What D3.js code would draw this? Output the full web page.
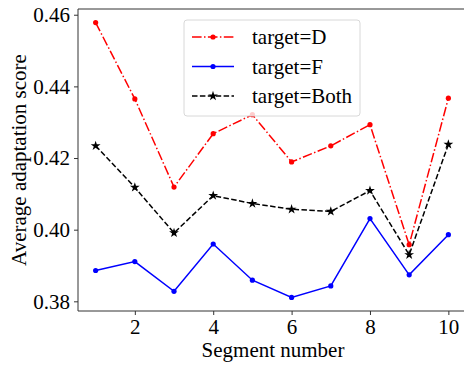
<!DOCTYPE html>
<html>
<head>
<meta charset="utf-8">
<script src="https://cdn.jsdelivr.net/npm/d3@7"></script>
<style>
  body { margin: 0; background: #fff; }
</style>
</head>
<body>
<div id="chart"></div>
<script>
// data
var segments = [1, 2, 3, 4, 5, 6, 7, 8, 9, 10];
var targetD = [0.4578, 0.4365, 0.4119, 0.4268, 0.4321, 0.4189, 0.4234, 0.4293, 0.3958, 0.4367];
var targetF = [0.3886, 0.3911, 0.3828, 0.3960, 0.3859, 0.3811, 0.3843, 0.4031, 0.3874, 0.3986];
var targetBoth = [0.4234, 0.4118, 0.3991, 0.4095, 0.4073, 0.4057, 0.4051, 0.4109, 0.3930, 0.4238];
var xTicks = [2, 4, 6, 8, 10];
var yTicks = [0.38, 0.40, 0.42, 0.44, 0.46];

var FONT = "Liberation Serif, Times New Roman, serif";
var W = 464, H = 370;
var margin = { top: 9, left: 78, bottom: 59 };
var plotW = 388, plotH = H - margin.top - margin.bottom;

var svg = d3.select("#chart").append("svg")
    .attr("width", W)
    .attr("height", H)
    .attr("font-family", FONT)
    .style("font-family", FONT);

var x = d3.scaleLinear().domain([0.55, 10.45]).range([margin.left, margin.left + plotW]);
var y = d3.scaleLinear().domain([0.3773, 0.4616]).range([margin.top + plotH, margin.top]);

// frame
var frame = svg.append("g").attr("stroke", "#333").attr("stroke-width", 1).attr("fill", "none");
frame.append("line").attr("x1", margin.left).attr("x2", margin.left)
    .attr("y1", margin.top).attr("y2", margin.top + plotH);
frame.append("line").attr("x1", margin.left).attr("x2", margin.left + plotW)
    .attr("y1", margin.top + plotH).attr("y2", margin.top + plotH);
frame.append("line").attr("x1", margin.left).attr("x2", margin.left + plotW)
    .attr("y1", margin.top).attr("y2", margin.top);

// axes
var xAxis = svg.append("g")
    .attr("transform", "translate(0," + (margin.top + plotH) + ")")
    .call(d3.axisBottom(x).tickValues(xTicks).tickSize(4).tickPadding(3).tickFormat(d3.format("d")));
var yAxis = svg.append("g")
    .attr("transform", "translate(" + margin.left + ",0)")
    .call(d3.axisLeft(y).tickValues(yTicks).tickSize(4).tickPadding(4).tickFormat(d3.format(".2f")));

[xAxis, yAxis].forEach(function (a) {
    a.attr("font-family", FONT).attr("font-size", 21);
    a.select(".domain").remove();
    a.selectAll(".tick line").attr("stroke", "#333");
    a.selectAll(".tick text")
        .attr("fill", "#000")
        .attr("font-family", FONT)
        .style("font-size", "21px");
});
xAxis.selectAll(".tick text").attr("dy", "0.75em");

svg.append("text")
    .attr("x", margin.left + 195)
    .attr("y", 357)
    .attr("text-anchor", "middle")
    .style("font-size", "21px")
    .attr("fill", "#000")
    .text("Segment number");

svg.append("text")
    .attr("transform", "translate(26," + (margin.top + plotH / 2) + ") rotate(-90)")
    .attr("text-anchor", "middle")
    .style("font-size", "21px")
    .attr("fill", "#000")
    .text("Average adaptation score");

var series = [
    { name: "target=D", values: targetD, color: "#ff0000", dash: "9.6,2.4,1.5,2.4", marker: "dot" },
    { name: "target=F", values: targetF, color: "#0000ff", dash: null, marker: "dot" },
    { name: "target=Both", values: targetBoth, color: "#000000", dash: "5.5,2.4", marker: "star" }
];

var line = d3.line()
    .x(function (d, i) { return x(segments[i]); })
    .y(function (d) { return y(d); });

var star = d3.symbol().type(d3.symbolStar).size(30);

function drawMarker(g, s, cx, cy) {
    if (s.marker === "dot") {
        g.append("circle").attr("cx", cx).attr("cy", cy).attr("r", 2.6).attr("fill", s.color);
    } else {
        g.append("path").attr("d", star).attr("transform", "translate(" + cx + "," + cy + ")").attr("fill", s.color);
    }
}

var plot = svg.append("g");
series.forEach(function (s) {
    plot.append("path")
        .datum(s.values)
        .attr("d", line)
        .attr("fill", "none")
        .attr("stroke", s.color)
        .attr("stroke-width", 1.5)
        .attr("stroke-dasharray", s.dash);
    s.values.forEach(function (v, i) {
        drawMarker(plot, s, x(segments[i]), y(v));
    });
});

// legend
var legend = svg.append("g").attr("transform", "translate(184,20)");
legend.append("rect")
    .attr("width", 176).attr("height", 96)
    .attr("rx", 3)
    .attr("fill", "#fff").attr("fill-opacity", 0.8)
    .attr("stroke", "#d8d8d8");
series.forEach(function (s, i) {
    var ly = 17 + i * 29.5;
    var row = legend.append("g");
    row.append("line")
        .attr("x1", 8).attr("x2", 50)
        .attr("y1", ly).attr("y2", ly)
        .attr("stroke", s.color).attr("stroke-width", 1.5)
        .attr("stroke-dasharray", s.dash);
    drawMarker(row, s, 29, ly);
    row.append("text")
        .attr("x", 68).attr("y", ly + 7)
        .style("font-size", "21px")
        .attr("fill", "#000")
        .text(s.name);
});
</script>
</body>
</html>
